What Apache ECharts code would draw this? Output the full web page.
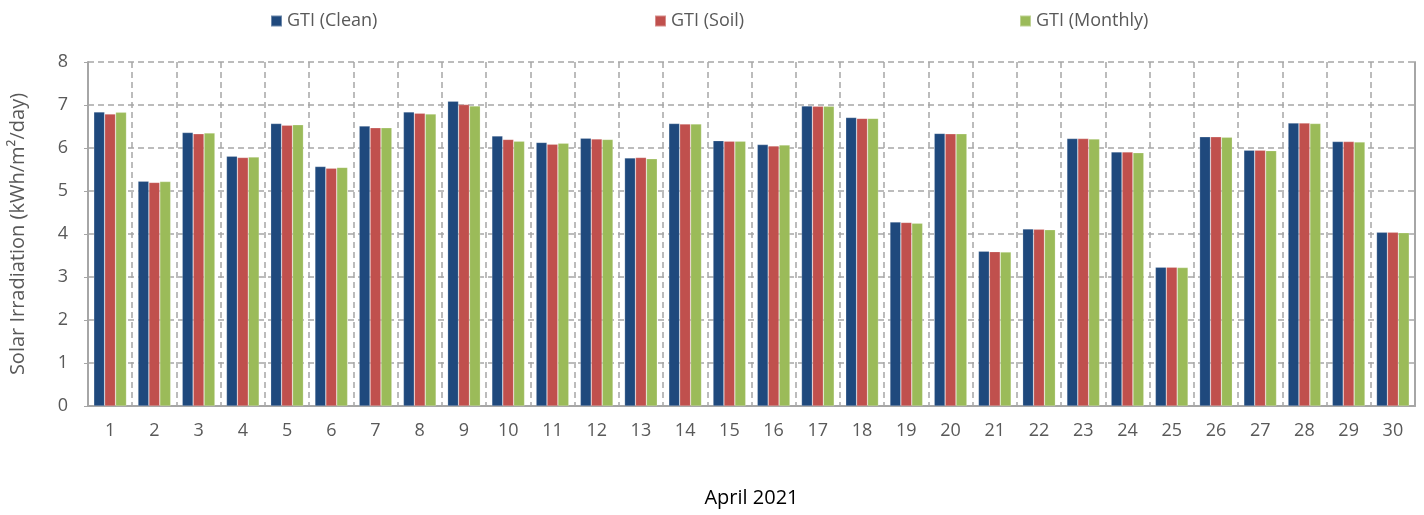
<!DOCTYPE html>
<html>
<head>
<meta charset="utf-8">
<script src="https://cdn.jsdelivr.net/npm/echarts@6/dist/echarts.min.js"></script>
<style>
html,body{margin:0;padding:0;background:#fff;}
#chart{width:1424px;height:515px;}
</style>
</head>
<body>
<div id="chart"></div>
<script>
const days = ['1','2','3','4','5','6','7','8','9','10','11','12','13','14','15','16','17','18','19','20','21','22','23','24','25','26','27','28','29','30'];
const gtiClean   = [6.84,5.23,6.36,5.81,6.57,5.57,6.51,6.84,7.09,6.28,6.13,6.23,5.77,6.57,6.17,6.08,6.98,6.71,4.28,6.34,3.60,4.12,6.22,5.91,3.23,6.26,5.95,6.58,6.15,4.04];
const gtiSoil    = [6.79,5.20,6.33,5.78,6.53,5.53,6.47,6.81,7.01,6.20,6.09,6.21,5.78,6.56,6.16,6.05,6.97,6.69,4.27,6.33,3.59,4.11,6.22,5.91,3.23,6.26,5.95,6.58,6.15,4.04];
const gtiMonthly = [6.83,5.22,6.35,5.79,6.54,5.55,6.47,6.79,6.98,6.16,6.11,6.20,5.75,6.56,6.16,6.07,6.97,6.69,4.25,6.33,3.58,4.10,6.21,5.89,3.22,6.25,5.94,6.57,6.14,4.03];
const yTicks = [0,1,2,3,4,5,6,7,8];

const font = '"Open Sans", sans-serif';
const gray = '#595959';
const chart = echarts.init(document.getElementById('chart'));
const legendBase = {top: 7, itemWidth: 11, itemHeight: 11, icon: 'rect', itemGap: 6,
  textStyle: {fontFamily: font, fontSize: 18, color: gray}};
chart.setOption({
  animation: false,
  textStyle: {fontFamily: font},
  legend: [
    Object.assign({left: 265, data: ['GTI (Clean)']}, legendBase),
    Object.assign({left: 649, data: ['GTI (Soil)']}, legendBase),
    Object.assign({left: 1014, data: ['GTI (Monthly)']}, legendBase)
  ],
  grid: {left: 88, right: 9, top: 62, bottom: 109, outerBoundsMode: 'none', containLabel: false},
  xAxis: {
    type: 'category', data: days,
    name: 'April 2021', nameLocation: 'middle', nameGap: 82,
    nameTextStyle: {fontFamily: font, fontSize: 20, color: '#000'},
    axisLine: {lineStyle: {color: '#A6A6A6', width: 2}},
    axisTick: {show: false},
    axisLabel: {fontSize: 18, color: gray, margin: 16, fontFamily: font},
    splitLine: {show: true, lineStyle: {type: [6, 4], color: '#A6A6A6', width: 1.5}}
  },
  yAxis: [{
    type: 'value', min: 0, max: 8, interval: 1,
    name: 'Solar Irradiation (kWh/m\u00B2/day)', nameLocation: 'middle', nameGap: 60,
    nameTextStyle: {fontFamily: font, fontSize: 20, color: gray},
    axisLine: {show: true, lineStyle: {color: '#A6A6A6', width: 2}},
    axisTick: {show: true, length: 4, lineStyle: {color: '#A6A6A6'}},
    axisLabel: {fontSize: 18, color: gray, margin: 20, fontFamily: font,
      formatter: v => yTicks.includes(v) ? String(v) : ''},
    splitLine: {show: true, lineStyle: {type: [6, 4], color: '#A6A6A6', width: 1.5}}
  }, {
    type: 'value', min: 0, max: 8, interval: 1, position: 'right',
    axisLine: {show: true, lineStyle: {color: '#A6A6A6', width: 2}},
    axisTick: {show: false}, axisLabel: {show: false}, splitLine: {show: false}
  }],
  series: [
    {name: 'GTI (Clean)', type: 'bar', data: gtiClean, barGap: '0%', barCategoryGap: '26%',
      itemStyle: {color: '#1F497D', borderColor: 'rgba(255,255,255,0.35)', borderWidth: 0.6}},
    {name: 'GTI (Soil)', type: 'bar', data: gtiSoil, barGap: '0%', barCategoryGap: '26%',
      itemStyle: {color: '#C0504D', borderColor: 'rgba(255,255,255,0.35)', borderWidth: 0.6}},
    {name: 'GTI (Monthly)', type: 'bar', data: gtiMonthly, barGap: '0%', barCategoryGap: '26%',
      itemStyle: {color: '#9BBB59', borderColor: 'rgba(255,255,255,0.35)', borderWidth: 0.6}}
  ]
});
</script>
</body>
</html>
